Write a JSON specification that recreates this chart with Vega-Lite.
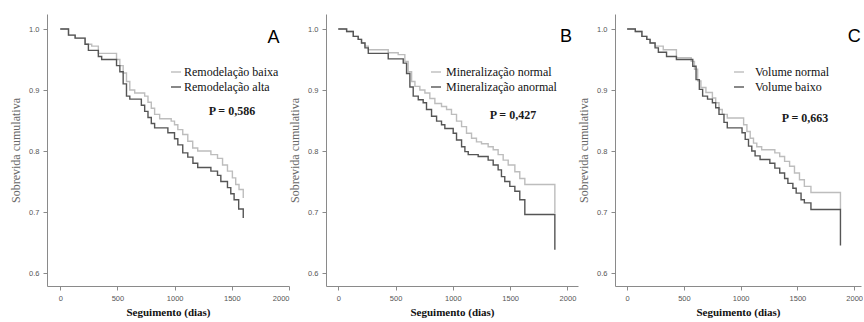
{
  "$schema": "https://vega.github.io/schema/vega-lite/v6.json",
  "background": "white",
  "padding": {"left": 9, "top": 14, "right": 0, "bottom": 0},
  "bounds": "flush",
  "spacing": 37,
  "config": {
    "view": {"stroke": null},
    "axis": {
      "grid": false,
      "labelFont": "Liberation Sans",
      "labelFontSize": 7.5,
      "labelColor": "#555555",
      "domainColor": "#8a8a8a",
      "tickColor": "#8a8a8a",
      "tickSize": 4,
      "labelPadding": 4,
      "titleFont": "Liberation Serif"
    },
    "axisY": {"titleFontSize": 12, "titleFontWeight": "normal", "titleColor": "#666666", "titlePadding": 6},
    "axisX": {"titleFontSize": 11, "titleFontWeight": "bold", "titleColor": "#111111", "titlePadding": 5, "format": "d"},
    "legend": {
      "orient": "none",
      "title": null,
      "symbolType": "stroke",
      "symbolSize": 100,
      "symbolStrokeWidth": 1.4,
      "labelFont": "Liberation Serif",
      "labelFontSize": 12,
      "labelColor": "#111111",
      "rowPadding": 3,
      "padding": 0,
      "labelLimit": 300
    }
  },
  "resolve": {"scale": {"color": "independent", "x": "independent", "y": "independent"}, "legend": {"color": "independent"}},
  "datasets": {
    "A": [
      {"g":"Remodelação baixa","t":0,"s":1.0},{"g":"Remodelação baixa","t":72,"s":0.99},{"g":"Remodelação baixa","t":130,"s":0.985},{"g":"Remodelação baixa","t":217,"s":0.975},{"g":"Remodelação baixa","t":275,"s":0.972},{"g":"Remodelação baixa","t":333,"s":0.96},{"g":"Remodelação baixa","t":492,"s":0.95},{"g":"Remodelação baixa","t":521,"s":0.94},{"g":"Remodelação baixa","t":550,"s":0.928},{"g":"Remodelação baixa","t":579,"s":0.914},{"g":"Remodelação baixa","t":608,"s":0.9},{"g":"Remodelação baixa","t":651,"s":0.895},{"g":"Remodelação baixa","t":738,"s":0.89},{"g":"Remodelação baixa","t":767,"s":0.88},{"g":"Remodelação baixa","t":796,"s":0.87},{"g":"Remodelação baixa","t":825,"s":0.86},{"g":"Remodelação baixa","t":869,"s":0.853},{"g":"Remodelação baixa","t":970,"s":0.849},{"g":"Remodelação baixa","t":999,"s":0.843},{"g":"Remodelação baixa","t":1028,"s":0.835},{"g":"Remodelação baixa","t":1071,"s":0.827},{"g":"Remodelação baixa","t":1115,"s":0.816},{"g":"Remodelação baixa","t":1158,"s":0.805},{"g":"Remodelação baixa","t":1202,"s":0.8},{"g":"Remodelação baixa","t":1317,"s":0.794},{"g":"Remodelação baixa","t":1375,"s":0.788},{"g":"Remodelação baixa","t":1419,"s":0.777},{"g":"Remodelação baixa","t":1462,"s":0.767},{"g":"Remodelação baixa","t":1505,"s":0.756},{"g":"Remodelação baixa","t":1534,"s":0.745},{"g":"Remodelação baixa","t":1563,"s":0.737},{"g":"Remodelação baixa","t":1600,"s":0.723},
      {"g":"Remodelação alta","t":0,"s":1.0},{"g":"Remodelação alta","t":72,"s":0.99},{"g":"Remodelação alta","t":130,"s":0.985},{"g":"Remodelação alta","t":217,"s":0.975},{"g":"Remodelação alta","t":246,"s":0.965},{"g":"Remodelação alta","t":333,"s":0.955},{"g":"Remodelação alta","t":362,"s":0.95},{"g":"Remodelação alta","t":492,"s":0.94},{"g":"Remodelação alta","t":521,"s":0.93},{"g":"Remodelação alta","t":550,"s":0.91},{"g":"Remodelação alta","t":579,"s":0.89},{"g":"Remodelação alta","t":608,"s":0.885},{"g":"Remodelação alta","t":709,"s":0.875},{"g":"Remodelação alta","t":738,"s":0.865},{"g":"Remodelação alta","t":767,"s":0.855},{"g":"Remodelação alta","t":796,"s":0.845},{"g":"Remodelação alta","t":825,"s":0.838},{"g":"Remodelação alta","t":941,"s":0.83},{"g":"Remodelação alta","t":999,"s":0.82},{"g":"Remodelação alta","t":1028,"s":0.81},{"g":"Remodelação alta","t":1071,"s":0.797},{"g":"Remodelação alta","t":1115,"s":0.79},{"g":"Remodelação alta","t":1160,"s":0.78},{"g":"Remodelação alta","t":1202,"s":0.773},{"g":"Remodelação alta","t":1317,"s":0.767},{"g":"Remodelação alta","t":1375,"s":0.76},{"g":"Remodelação alta","t":1404,"s":0.75},{"g":"Remodelação alta","t":1462,"s":0.74},{"g":"Remodelação alta","t":1491,"s":0.73},{"g":"Remodelação alta","t":1520,"s":0.72},{"g":"Remodelação alta","t":1560,"s":0.705},{"g":"Remodelação alta","t":1600,"s":0.69}
    ],
    "B": [
      {"g":"Mineralização normal","t":0,"s":1.0},{"g":"Mineralização normal","t":73,"s":0.996},{"g":"Mineralização normal","t":131,"s":0.988},{"g":"Mineralização normal","t":174,"s":0.983},{"g":"Mineralização normal","t":203,"s":0.977},{"g":"Mineralização normal","t":233,"s":0.972},{"g":"Mineralização normal","t":262,"s":0.966},{"g":"Mineralização normal","t":436,"s":0.961},{"g":"Mineralização normal","t":523,"s":0.958},{"g":"Mineralização normal","t":581,"s":0.947},{"g":"Mineralização normal","t":610,"s":0.93},{"g":"Mineralização normal","t":640,"s":0.914},{"g":"Mineralização normal","t":669,"s":0.906},{"g":"Mineralização normal","t":712,"s":0.9},{"g":"Mineralização normal","t":756,"s":0.895},{"g":"Mineralização normal","t":799,"s":0.886},{"g":"Mineralização normal","t":843,"s":0.878},{"g":"Mineralização normal","t":901,"s":0.873},{"g":"Mineralização normal","t":945,"s":0.868},{"g":"Mineralização normal","t":988,"s":0.86},{"g":"Mineralização normal","t":1032,"s":0.849},{"g":"Mineralização normal","t":1076,"s":0.84},{"g":"Mineralização normal","t":1119,"s":0.829},{"g":"Mineralização normal","t":1163,"s":0.821},{"g":"Mineralização normal","t":1206,"s":0.815},{"g":"Mineralização normal","t":1250,"s":0.812},{"g":"Mineralização normal","t":1308,"s":0.807},{"g":"Mineralização normal","t":1352,"s":0.802},{"g":"Mineralização normal","t":1395,"s":0.794},{"g":"Mineralização normal","t":1439,"s":0.785},{"g":"Mineralização normal","t":1483,"s":0.777},{"g":"Mineralização normal","t":1541,"s":0.766},{"g":"Mineralização normal","t":1584,"s":0.755},{"g":"Mineralização normal","t":1628,"s":0.745},{"g":"Mineralização normal","t":1890,"s":0.698},
      {"g":"Mineralização anormal","t":0,"s":1.0},{"g":"Mineralização anormal","t":73,"s":0.996},{"g":"Mineralização anormal","t":131,"s":0.988},{"g":"Mineralização anormal","t":174,"s":0.983},{"g":"Mineralização anormal","t":203,"s":0.977},{"g":"Mineralização anormal","t":233,"s":0.969},{"g":"Mineralização anormal","t":262,"s":0.96},{"g":"Mineralização anormal","t":436,"s":0.951},{"g":"Mineralização anormal","t":567,"s":0.944},{"g":"Mineralização anormal","t":596,"s":0.927},{"g":"Mineralização anormal","t":625,"s":0.905},{"g":"Mineralização anormal","t":654,"s":0.89},{"g":"Mineralização anormal","t":698,"s":0.884},{"g":"Mineralização anormal","t":741,"s":0.879},{"g":"Mineralização anormal","t":770,"s":0.868},{"g":"Mineralização anormal","t":814,"s":0.857},{"g":"Mineralização anormal","t":858,"s":0.849},{"g":"Mineralização anormal","t":901,"s":0.843},{"g":"Mineralização anormal","t":930,"s":0.837},{"g":"Mineralização anormal","t":1003,"s":0.829},{"g":"Mineralização anormal","t":1032,"s":0.818},{"g":"Mineralização anormal","t":1076,"s":0.807},{"g":"Mineralização anormal","t":1105,"s":0.799},{"g":"Mineralização anormal","t":1134,"s":0.794},{"g":"Mineralização anormal","t":1221,"s":0.791},{"g":"Mineralização anormal","t":1308,"s":0.785},{"g":"Mineralização anormal","t":1352,"s":0.777},{"g":"Mineralização anormal","t":1395,"s":0.769},{"g":"Mineralização anormal","t":1424,"s":0.758},{"g":"Mineralização anormal","t":1453,"s":0.75},{"g":"Mineralização anormal","t":1497,"s":0.742},{"g":"Mineralização anormal","t":1541,"s":0.734},{"g":"Mineralização anormal","t":1584,"s":0.72},{"g":"Mineralização anormal","t":1628,"s":0.696},{"g":"Mineralização anormal","t":1890,"s":0.638}
    ],
    "C": [
      {"g":"Volume normal","t":0,"s":1.0},{"g":"Volume normal","t":72,"s":0.996},{"g":"Volume normal","t":130,"s":0.988},{"g":"Volume normal","t":173,"s":0.983},{"g":"Volume normal","t":202,"s":0.977},{"g":"Volume normal","t":246,"s":0.972},{"g":"Volume normal","t":318,"s":0.966},{"g":"Volume normal","t":434,"s":0.953},{"g":"Volume normal","t":564,"s":0.947},{"g":"Volume normal","t":593,"s":0.934},{"g":"Volume normal","t":621,"s":0.915},{"g":"Volume normal","t":650,"s":0.904},{"g":"Volume normal","t":694,"s":0.896},{"g":"Volume normal","t":751,"s":0.887},{"g":"Volume normal","t":780,"s":0.879},{"g":"Volume normal","t":809,"s":0.868},{"g":"Volume normal","t":838,"s":0.86},{"g":"Volume normal","t":882,"s":0.854},{"g":"Volume normal","t":1026,"s":0.843},{"g":"Volume normal","t":1055,"s":0.832},{"g":"Volume normal","t":1084,"s":0.821},{"g":"Volume normal","t":1113,"s":0.813},{"g":"Volume normal","t":1142,"s":0.807},{"g":"Volume normal","t":1185,"s":0.802},{"g":"Volume normal","t":1301,"s":0.797},{"g":"Volume normal","t":1344,"s":0.791},{"g":"Volume normal","t":1387,"s":0.783},{"g":"Volume normal","t":1431,"s":0.775},{"g":"Volume normal","t":1474,"s":0.764},{"g":"Volume normal","t":1518,"s":0.753},{"g":"Volume normal","t":1561,"s":0.742},{"g":"Volume normal","t":1619,"s":0.732},{"g":"Volume normal","t":1879,"s":0.704},
      {"g":"Volume baixo","t":0,"s":1.0},{"g":"Volume baixo","t":72,"s":0.996},{"g":"Volume baixo","t":130,"s":0.988},{"g":"Volume baixo","t":173,"s":0.983},{"g":"Volume baixo","t":202,"s":0.977},{"g":"Volume baixo","t":246,"s":0.969},{"g":"Volume baixo","t":275,"s":0.962},{"g":"Volume baixo","t":347,"s":0.955},{"g":"Volume baixo","t":434,"s":0.95},{"g":"Volume baixo","t":578,"s":0.939},{"g":"Volume baixo","t":607,"s":0.917},{"g":"Volume baixo","t":636,"s":0.901},{"g":"Volume baixo","t":665,"s":0.89},{"g":"Volume baixo","t":708,"s":0.885},{"g":"Volume baixo","t":751,"s":0.879},{"g":"Volume baixo","t":780,"s":0.871},{"g":"Volume baixo","t":809,"s":0.86},{"g":"Volume baixo","t":853,"s":0.847},{"g":"Volume baixo","t":882,"s":0.838},{"g":"Volume baixo","t":1012,"s":0.83},{"g":"Volume baixo","t":1040,"s":0.819},{"g":"Volume baixo","t":1069,"s":0.808},{"g":"Volume baixo","t":1098,"s":0.8},{"g":"Volume baixo","t":1127,"s":0.792},{"g":"Volume baixo","t":1171,"s":0.786},{"g":"Volume baixo","t":1257,"s":0.78},{"g":"Volume baixo","t":1301,"s":0.772},{"g":"Volume baixo","t":1344,"s":0.764},{"g":"Volume baixo","t":1387,"s":0.755},{"g":"Volume baixo","t":1416,"s":0.747},{"g":"Volume baixo","t":1460,"s":0.739},{"g":"Volume baixo","t":1489,"s":0.731},{"g":"Volume baixo","t":1532,"s":0.72},{"g":"Volume baixo","t":1561,"s":0.715},{"g":"Volume baixo","t":1619,"s":0.704},{"g":"Volume baixo","t":1879,"s":0.645}
    ]
  },
  "hconcat": [
    {
      "width": 242, "height": 272,
      "layer": [
        {
          "data": {"name": "A"},
          "mark": {"type": "line", "interpolate": "step-after", "strokeWidth": 1.4},
          "encoding": {
            "x": {"field": "t", "type": "quantitative", "scale": {"domain": [-116, 2000], "nice": false, "zero": false}, "axis": {"title": "Seguimento (dias)", "values": [0, 500, 1000, 1500, 2000]}},
            "y": {"field": "s", "type": "quantitative", "scale": {"domain": [0.5787, 1.0246], "nice": false, "zero": false}, "axis": {"title": "Sobrevida cumulativa", "values": [0.6, 0.7, 0.8, 0.9, 1.0], "format": ".1f"}},
            "color": {"field": "g", "type": "nominal", "scale": {"domain": ["Remodelação baixa", "Remodelação alta"], "range": ["#bdbdbd", "#555555"]}, "legend": {"legendX": 123, "legendY": 52, "labelOffset": 2}}
          }
        },
        {
          "data": {"values": [{"t": 1501, "s": 0.865, "label": "P = 0,586"}]},
          "mark": {"type": "text", "font": "Liberation Serif", "fontSize": 12, "fontWeight": "bold", "color": "#1a1a1a"},
          "encoding": {"x": {"field": "t", "type": "quantitative"}, "y": {"field": "s", "type": "quantitative"}, "text": {"field": "label"}}
        },
        {
          "data": {"values": [{"t": 1865, "s": 0.985, "label": "A"}]},
          "mark": {"type": "text", "font": "Liberation Sans", "fontSize": 18, "color": "#000000", "baseline": "middle"},
          "encoding": {"x": {"field": "t", "type": "quantitative"}, "y": {"field": "s", "type": "quantitative"}, "text": {"field": "label"}}
        }
      ]
    },
    {
      "width": 252, "height": 272,
      "layer": [
        {
          "data": {"name": "B"},
          "mark": {"type": "line", "interpolate": "step-after", "strokeWidth": 1.4},
          "encoding": {
            "x": {"field": "t", "type": "quantitative", "scale": {"domain": [-107, 2092], "nice": false, "zero": false}, "axis": {"title": "Seguimento (dias)", "values": [0, 500, 1000, 1500, 2000]}},
            "y": {"field": "s", "type": "quantitative", "scale": {"domain": [0.5787, 1.0246], "nice": false, "zero": false}, "axis": {"title": "Sobrevida cumulativa", "values": [0.6, 0.7, 0.8, 0.9, 1.0], "format": ".1f"}},
            "color": {"field": "g", "type": "nominal", "scale": {"domain": ["Mineralização normal", "Mineralização anormal"], "range": ["#bdbdbd", "#555555"]}, "legend": {"legendX": 104, "legendY": 52, "labelOffset": 4}}
          }
        },
        {
          "data": {"values": [{"t": 1524, "s": 0.8595, "label": "P = 0,427"}]},
          "mark": {"type": "text", "font": "Liberation Serif", "fontSize": 12, "fontWeight": "bold", "color": "#1a1a1a"},
          "encoding": {"x": {"field": "t", "type": "quantitative"}, "y": {"field": "s", "type": "quantitative"}, "text": {"field": "label"}}
        },
        {
          "data": {"values": [{"t": 1987, "s": 0.987, "label": "B"}]},
          "mark": {"type": "text", "font": "Liberation Sans", "fontSize": 18, "color": "#000000", "baseline": "middle"},
          "encoding": {"x": {"field": "t", "type": "quantitative"}, "y": {"field": "s", "type": "quantitative"}, "text": {"field": "label"}}
        }
      ]
    },
    {
      "width": 246, "height": 272,
      "layer": [
        {
          "data": {"name": "C"},
          "mark": {"type": "line", "interpolate": "step-after", "strokeWidth": 1.4},
          "encoding": {
            "x": {"field": "t", "type": "quantitative", "scale": {"domain": [-107, 2060], "nice": false, "zero": false}, "axis": {"title": "Seguimento (dias)", "values": [0, 500, 1000, 1500, 2000]}},
            "y": {"field": "s", "type": "quantitative", "scale": {"domain": [0.5787, 1.0246], "nice": false, "zero": false}, "axis": {"title": "Sobrevida cumulativa", "values": [0.6, 0.7, 0.8, 0.9, 1.0], "format": ".1f"}},
            "color": {"field": "g", "type": "nominal", "scale": {"domain": ["Volume normal", "Volume baixo"], "range": ["#bdbdbd", "#555555"]}, "legend": {"legendX": 118, "legendY": 52, "labelOffset": 10}}
          }
        },
        {
          "data": {"values": [{"t": 1567, "s": 0.8546, "label": "P = 0,663"}]},
          "mark": {"type": "text", "font": "Liberation Serif", "fontSize": 12, "fontWeight": "bold", "color": "#1a1a1a"},
          "encoding": {"x": {"field": "t", "type": "quantitative"}, "y": {"field": "s", "type": "quantitative"}, "text": {"field": "label"}}
        },
        {
          "data": {"values": [{"t": 2000, "s": 0.987, "label": "C"}]},
          "mark": {"type": "text", "font": "Liberation Sans", "fontSize": 18, "color": "#000000", "baseline": "middle"},
          "encoding": {"x": {"field": "t", "type": "quantitative"}, "y": {"field": "s", "type": "quantitative"}, "text": {"field": "label"}}
        }
      ]
    }
  ]
}
